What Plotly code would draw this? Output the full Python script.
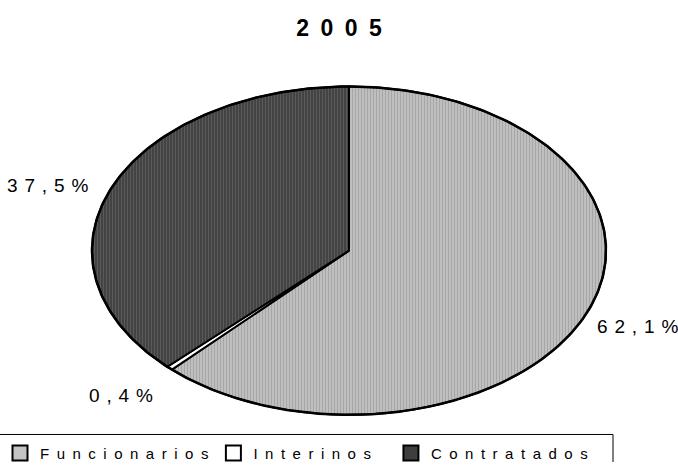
import numpy as np
import plotly.graph_objects as go

# ---- data ----
title_text = "2005"
categories = ["Funcionarios", "Interinos", "Contratados"]
values = [62.1, 0.4, 37.5]
label_texts = ["62,1%", "0,4%", "37,5%"]

# ---- styling ----
bg_colors = ["#c4c4c4", "#ffffff", "#3e3e3e"]
fg_colors = ["#a6a6a6", "#ffffff", "#5a5a5a"]
FONT = "Liberation Sans, Arial, sans-serif"
W, H = 678, 470
cx, cy, a, b = 349, 255, 257, 167   # ellipse geometry (pixel space)


def spaced(s, sep="\u2002"):
    return sep.join(list(s))


fig = go.Figure()
total = sum(values)
start = 0.0
mids = []
for cat, v, bg, fg in zip(categories, values, bg_colors, fg_colors):
    t0 = start / total * 2 * np.pi
    t1 = (start + v) / total * 2 * np.pi
    th = np.linspace(t0, t1, max(4, int(400 * v / total)))
    xs = np.concatenate([[cx], cx + a * np.sin(th), [cx]])
    ys = np.concatenate([[cy], cy - b * np.cos(th), [cy]])
    kw = {}
    if cat != "Interinos":
        kw["fillpattern"] = dict(shape="|", size=3, solidity=0.45,
                                 fgcolor=fg, bgcolor=bg, fillmode="replace")
    fig.add_trace(go.Scatter(x=xs, y=ys, mode="lines", fill="toself",
                             fillcolor=bg, line=dict(color="black", width=2),
                             showlegend=False, hoverinfo="skip", **kw))
    mids.append((t0 + t1) / 2)
    start += v

# outer outline
th = np.linspace(0, 2 * np.pi, 400)
fig.add_trace(go.Scatter(x=cx + a * np.sin(th), y=cy - b * np.cos(th), mode="lines",
                         line=dict(color="black", width=2.5), showlegend=False,
                         hoverinfo="skip"))

# legend entries
pads = ["", "\u2002\u2002", ""]
for cat, bg, p in zip(categories, bg_colors, pads):
    fig.add_trace(go.Scatter(x=[None], y=[None], mode="markers", name=spaced(cat) + p,
                             marker=dict(symbol="square", size=15, color=bg,
                                         line=dict(color="black", width=2))))

# percentage labels
k = [(1.21, 1.24), (1.27, 1.23), (1.27, 1.04)]
for txt, m, (kx, ky) in zip(label_texts, mids, k):
    fig.add_annotation(x=cx + a * kx * np.sin(m), y=cy - b * ky * np.cos(m),
                       text=spaced(txt, "\u00a0\u200a"), showarrow=False,
                       font=dict(family=FONT, size=19, color="black"))

# legend frame
fig.add_shape(type="path", path="M 0 442 L 613 442 L 613 480",
              xref="x", yref="y", line=dict(color="black", width=1))

fig.update_layout(
    width=W, height=H, margin=dict(l=0, r=0, t=0, b=0),
    paper_bgcolor="white", plot_bgcolor="white",
    title=dict(text=spaced(title_text), x=0.5, xanchor="center",
               y=1 - 28 / H, yanchor="middle",
               font=dict(family=FONT, size=23, color="black", weight="bold")),
    xaxis=dict(range=[0, W], visible=False, fixedrange=True),
    yaxis=dict(range=[H, 0], visible=False, fixedrange=True),
    legend=dict(orientation="h", x=0, xanchor="left", y=1 - 461 / H, yanchor="middle",
                font=dict(family=FONT, size=15, color="black"),
                bgcolor="rgba(0,0,0,0)", itemclick=False),
    showlegend=True,
)

fig.write_html("out.html", config={"displayModeBar": False},
               post_script="document.body.style.margin='0';")
